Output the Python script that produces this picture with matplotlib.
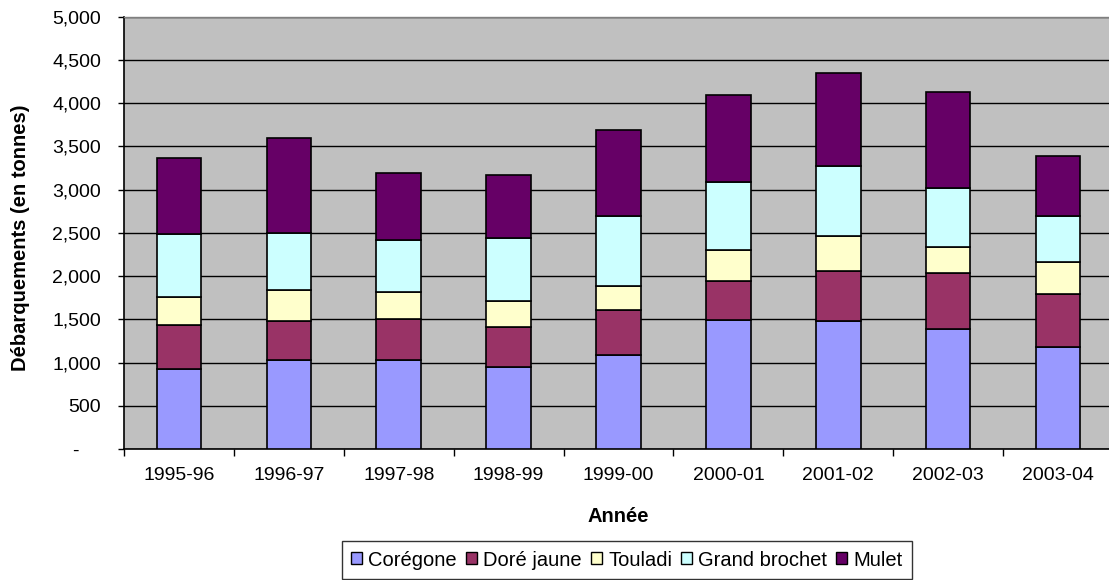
import matplotlib
matplotlib.use("Agg")
import matplotlib.pyplot as plt
from matplotlib.patches import Patch
from matplotlib.ticker import FixedLocator
import numpy as np

# Débarquements par espèce (tonnes), saisons 1995-96 à 2003-04
saisons = ["1995-96", "1996-97", "1997-98", "1998-99", "1999-00",
           "2000-01", "2001-02", "2002-03", "2003-04"]
coregone = [921, 1029, 1029, 944, 1091, 1492, 1476, 1392, 1180]
dore_jaune = [517, 451, 471, 467, 517, 455, 579, 643, 616]
touladi = [316, 363, 316, 301, 281, 351, 408, 301, 371]
grand_brochet = [729, 659, 601, 728, 810, 786, 814, 683, 532]
mulet = [879, 1099, 775, 733, 990, 1010, 1075, 1114, 690]

especes = ["Corégone", "Doré jaune", "Touladi", "Grand brochet", "Mulet"]
couleurs = ["#9999FF", "#993366", "#FFFFCC", "#CCFFFF", "#660066"]
series = [coregone, dore_jaune, touladi, grand_brochet, mulet]

y_ticks = [0, 500, 1000, 1500, 2000, 2500, 3000, 3500, 4000, 4500, 5000]

plt.rcParams["font.family"] = ["Liberation Sans", "DejaVu Sans"]

W, H = 1109, 580
fig = plt.figure(figsize=(W / 100, H / 100), dpi=100)
fig.patch.set_facecolor("white")

# plot area in pixels: left 124, top 16.7, bottom 449, width 9 categories * 109.9
left_px, top_px, bot_px, width_px = 124, 16.7, 449, 989
ax = fig.add_axes([left_px / W, 1 - bot_px / H, width_px / W, (bot_px - top_px) / H])
ax.set_facecolor("#C0C0C0")

x = np.arange(len(saisons))
bottom = np.zeros(len(saisons))
for vals, col in zip(series, couleurs):
    vals = np.array(vals, dtype=float)
    ax.bar(x, vals, width=0.405, bottom=bottom, color=col,
           edgecolor="black", linewidth=1.2, zorder=3)
    bottom += vals

ax.set_xlim(-0.5, len(saisons) - 0.5)
ax.set_ylim(0, 5000)

# horizontal gridlines
ax.set_yticks(y_ticks)
ax.yaxis.grid(True, color="black", linewidth=1.0, zorder=1)
ax.set_axisbelow(True)

def fmt(v):
    return "-    " if v == 0 else f"{v:,}"

ax.set_yticklabels([fmt(v) for v in y_ticks], fontsize=14)
ax.tick_params(axis="y", length=4.5, width=1, color="black", pad=12)

# category labels centred, tick marks at category boundaries
ax.set_xticks(x)
ax.set_xticklabels(saisons, fontsize=14)
ax.tick_params(axis="x", which="major", length=0, pad=13)
ax.xaxis.set_minor_locator(FixedLocator(np.arange(-0.5, len(saisons), 1.0)))
ax.tick_params(axis="x", which="minor", length=5, width=1, color="black")

for s in ["left", "bottom"]:
    ax.spines[s].set_color("black")
    ax.spines[s].set_linewidth(1.2)
for s in ["top", "right"]:
    ax.spines[s].set_color("#808080")
    ax.spines[s].set_linewidth(1.0)

fig.text(21 / W, 1 - 238 / H, "Débarquements (en tonnes)", rotation=90,
         ha="center", va="center", fontsize=14.5, fontweight="bold")
fig.text(618 / W, 1 - 516 / H, "Année", ha="center", va="center",
         fontsize=14.5, fontweight="bold")

handles = [Patch(facecolor=c, edgecolor="black", linewidth=1.0) for c in couleurs]
leg = fig.legend(handles, especes, loc="center", bbox_to_anchor=(627 / W, 1 - 560 / H),
                 ncol=5, fontsize=14.5, frameon=True, fancybox=False,
                 handlelength=0.55, handleheight=0.55, handletextpad=0.3,
                 columnspacing=0.45, borderpad=0.45, borderaxespad=0)
leg.get_frame().set_edgecolor("black")
leg.get_frame().set_linewidth(1.0)

fig.savefig("out.png", dpi=100)
